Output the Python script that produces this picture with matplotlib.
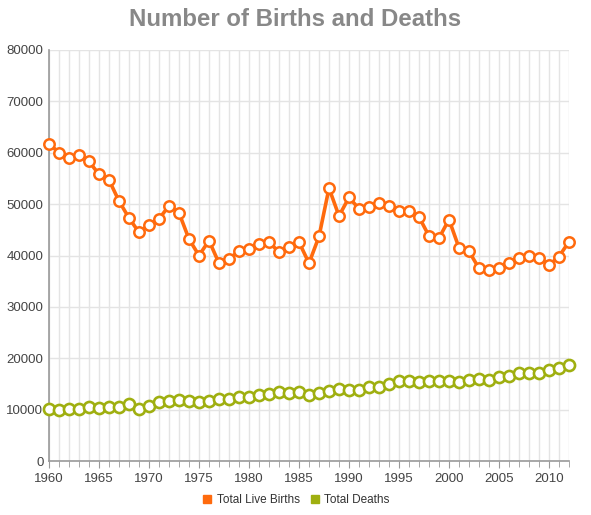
import matplotlib
matplotlib.use("Agg")
import matplotlib.pyplot as plt
from matplotlib.lines import Line2D

plt.rcParams['font.family'] = ['Liberation Sans', 'DejaVu Sans']

years = list(range(1960, 2013))
births = [61800, 60000, 59000, 59500, 58300, 55800, 54700, 50600, 47300, 44500,
          46000, 47100, 49700, 48300, 43200, 40000, 42900, 38500, 39400, 40800,
          41300, 42300, 42700, 40600, 41600, 42600, 38500, 43700, 53100, 47700,
          51300, 49100, 49500, 50300, 49600, 48600, 48600, 47500, 43800, 43400,
          47000, 41500, 40800, 37500, 37100, 37500, 38500, 39500, 39900, 39600,
          38100, 39800, 42700]
deaths = [10200, 10000, 10200, 10100, 10500, 10300, 10500, 10600, 11100, 10200,
          10800, 11400, 11600, 11900, 11700, 11400, 11700, 12000, 12100, 12500,
          12500, 12900, 13000, 13400, 13200, 13400, 12900, 13200, 13700, 14100,
          13900, 13900, 14400, 14500, 15000, 15600, 15600, 15300, 15600, 15500,
          15600, 15300, 15800, 16000, 15800, 16300, 16500, 17200, 17200, 17100,
          17700, 18100, 18600]
labels = ['Total Live Births', 'Total Deaths']
orange = '#FF6A0D'
olive = '#9FAF10'

fig = plt.figure(figsize=(5.91, 5.15), dpi=100)
ax = fig.add_axes([49/591, 54/515, 520/591, 411/515])

ax.plot(years, deaths, color=olive, lw=1.5, marker='o', ms=8,
        mfc='white', mec=olive, mew=1.9, zorder=3, clip_on=False)
ax.plot(years, births, color=orange, lw=2.6, marker='o', ms=7.5,
        mfc='white', mec=orange, mew=1.8, zorder=4, clip_on=False)

ax.set_xlim(1960, 2012)
ax.set_ylim(0, 80000)
ax.set_xticks(range(1960, 2012, 5))
ax.set_xticks(years, minor=True)
ax.set_yticks(range(0, 80001, 10000))
ax.grid(True, which='both', axis='x', color='#e4e4e4', lw=1)
ax.grid(True, which='major', axis='y', color='#e4e4e4', lw=1)
ax.set_axisbelow(True)

for s in ['top', 'right']:
    ax.spines[s].set_visible(False)
for s in ['left', 'bottom']:
    ax.spines[s].set_color('#999999')
    ax.spines[s].set_linewidth(1.2)

ax.tick_params(axis='both', which='both', colors='#999999', labelcolor='#444444',
               labelsize=9.5)
ax.tick_params(axis='x', which='major', length=5)
ax.tick_params(axis='x', which='minor', length=4)
ax.tick_params(axis='y', length=0, pad=4)

fig.text(0.5, 1 - 20/515, 'Number of Births and Deaths', ha='center', va='center',
         fontsize=17.3, fontweight='bold', color='#888888')

handles = [Line2D([], [], ls='none', marker='s', ms=6, color=orange),
           Line2D([], [], ls='none', marker='s', ms=6, color=olive)]
fig.legend(handles, labels, loc='center', bbox_to_anchor=(0.5, 1 - 500/515),
           ncol=2, frameon=False, fontsize=8.5, handletextpad=0.3,
           columnspacing=0.8, handlelength=1, labelcolor='#333333')

fig.savefig('out.png', dpi=100)
